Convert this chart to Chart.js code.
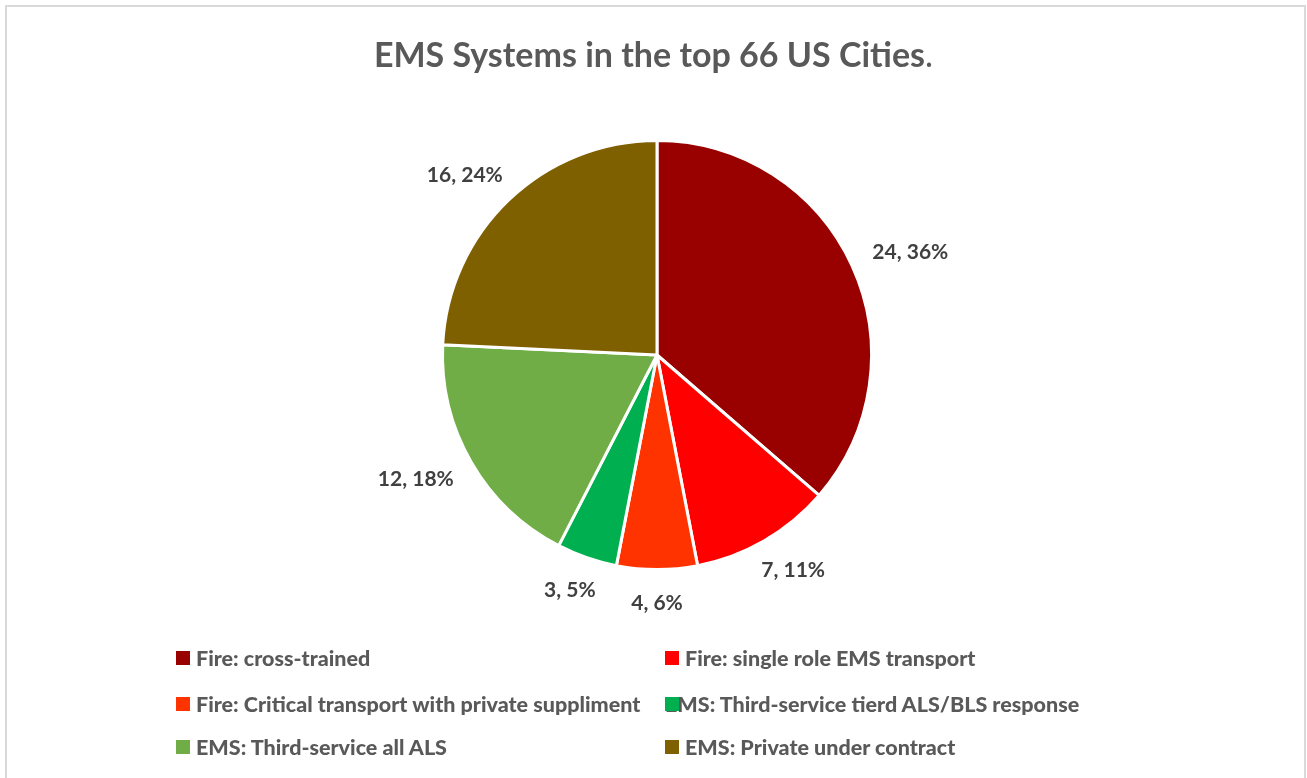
<!DOCTYPE html>
<html>
<head>
<meta charset="utf-8">
<script src="https://cdn.jsdelivr.net/npm/chart.js@4/dist/chart.umd.min.js"></script>
<style>
  html, body { margin: 0; padding: 0; background: #fff; }
  body { width: 1307px; height: 778px; position: relative; overflow: hidden; font-family: Lato, 'Noto Sans', sans-serif; }
  #frame { position: absolute; left: 5px; top: 5px; width: 1301px; height: 800px; border: 2px solid #d9d9d9; box-sizing: border-box; }
  #title { position: absolute; left: 0; width: 1307px; top: 34px; line-height: 40px; text-align: center; font-size: 34px; font-weight: bold; color: #595959; }
  #title span { font-weight: normal; }
  #wrap { position: absolute; left: 0; top: 0; width: 1307px; height: 778px; }
  .leg { position: absolute; font-size: 21.5px; font-weight: bold; color: #595959; white-space: nowrap; line-height: 26px; }
  .leg i { position: absolute; width: 14px; height: 14px; left: 0; top: 6px; z-index: 2; }
  .leg b { position: relative; margin-left: 20px; z-index: 1; }
</style>
</head>
<body>
<div id="frame"></div>
<div id="wrap"><canvas id="pie"></canvas></div>
<div id="title">EMS Systems in the top 66 US Cities<span>.</span></div>
<div id="legend"></div>
<script>
const categories = [
  'Fire: cross-trained',
  'Fire: single role EMS transport',
  'Fire: Critical transport with private suppliment',
  'EMS: Third-service tierd ALS/BLS response',
  'EMS: Third-service all ALS',
  'EMS: Private under contract'
];
const counts = [24, 7, 4, 3, 12, 16];
const colors = ['#990000', '#ff0000', '#ff3300', '#00b050', '#70ad47', '#7f6000'];

const total = counts.reduce((a, b) => a + b, 0);

// legend: two columns, three rows, like the Excel layout
const legendEl = document.getElementById('legend');
const colX = [176, 665];
const rowY = [645, 691, 734];
categories.forEach((name, i) => {
  const d = document.createElement('div');
  d.className = 'leg';
  d.style.left = colX[i % 2] + 'px';
  d.style.top = rowY[Math.floor(i / 2)] + 'px';
  d.innerHTML = `<i style="background:${colors[i]}"></i><b>${name}</b>`;
  // the long entry before it pushes this one's text under its marker in the original
  if (i === 3) d.querySelector('b').style.marginLeft = '0px';
  legendEl.appendChild(d);
});

const outsideLabels = {
  id: 'outsideLabels',
  afterDatasetsDraw(chart) {
    const ctx = chart.ctx;
    const meta = chart.getDatasetMeta(0);
    ctx.save();
    ctx.font = 'bold 21px Lato, "Noto Sans", sans-serif';
    ctx.fillStyle = '#404040';
    ctx.textAlign = 'center';
    ctx.textBaseline = 'middle';
    meta.data.forEach((arc, i) => {
      const mid = (arc.startAngle + arc.endAngle) / 2;
      const r = arc.outerRadius + 26;
      const txt = `${counts[i]}, ${Math.round(counts[i] / total * 100)}%`;
      const w = ctx.measureText(txt).width;
      const x = arc.x + Math.cos(mid) * r + Math.cos(mid) * w / 2;
      const y = arc.y + Math.sin(mid) * r + Math.sin(mid) * 8;
      ctx.fillText(txt, x, y);
    });
    ctx.restore();
  }
};

new Chart(document.getElementById('pie'), {
  type: 'pie',
  data: {
    labels: categories,
    datasets: [{
      data: counts,
      backgroundColor: colors,
      borderColor: '#ffffff',
      borderWidth: 3,
    }],
  },
  options: {
    responsive: true,
    maintainAspectRatio: false,
    animation: false,
    layout: { padding: { left: 441, right: 434, top: 139, bottom: 207 } },
    plugins: {
      legend: { display: false },
      tooltip: { enabled: false },
      title: { display: false },
    },
  },
  plugins: [outsideLabels],
});
</script>
</body>
</html>
